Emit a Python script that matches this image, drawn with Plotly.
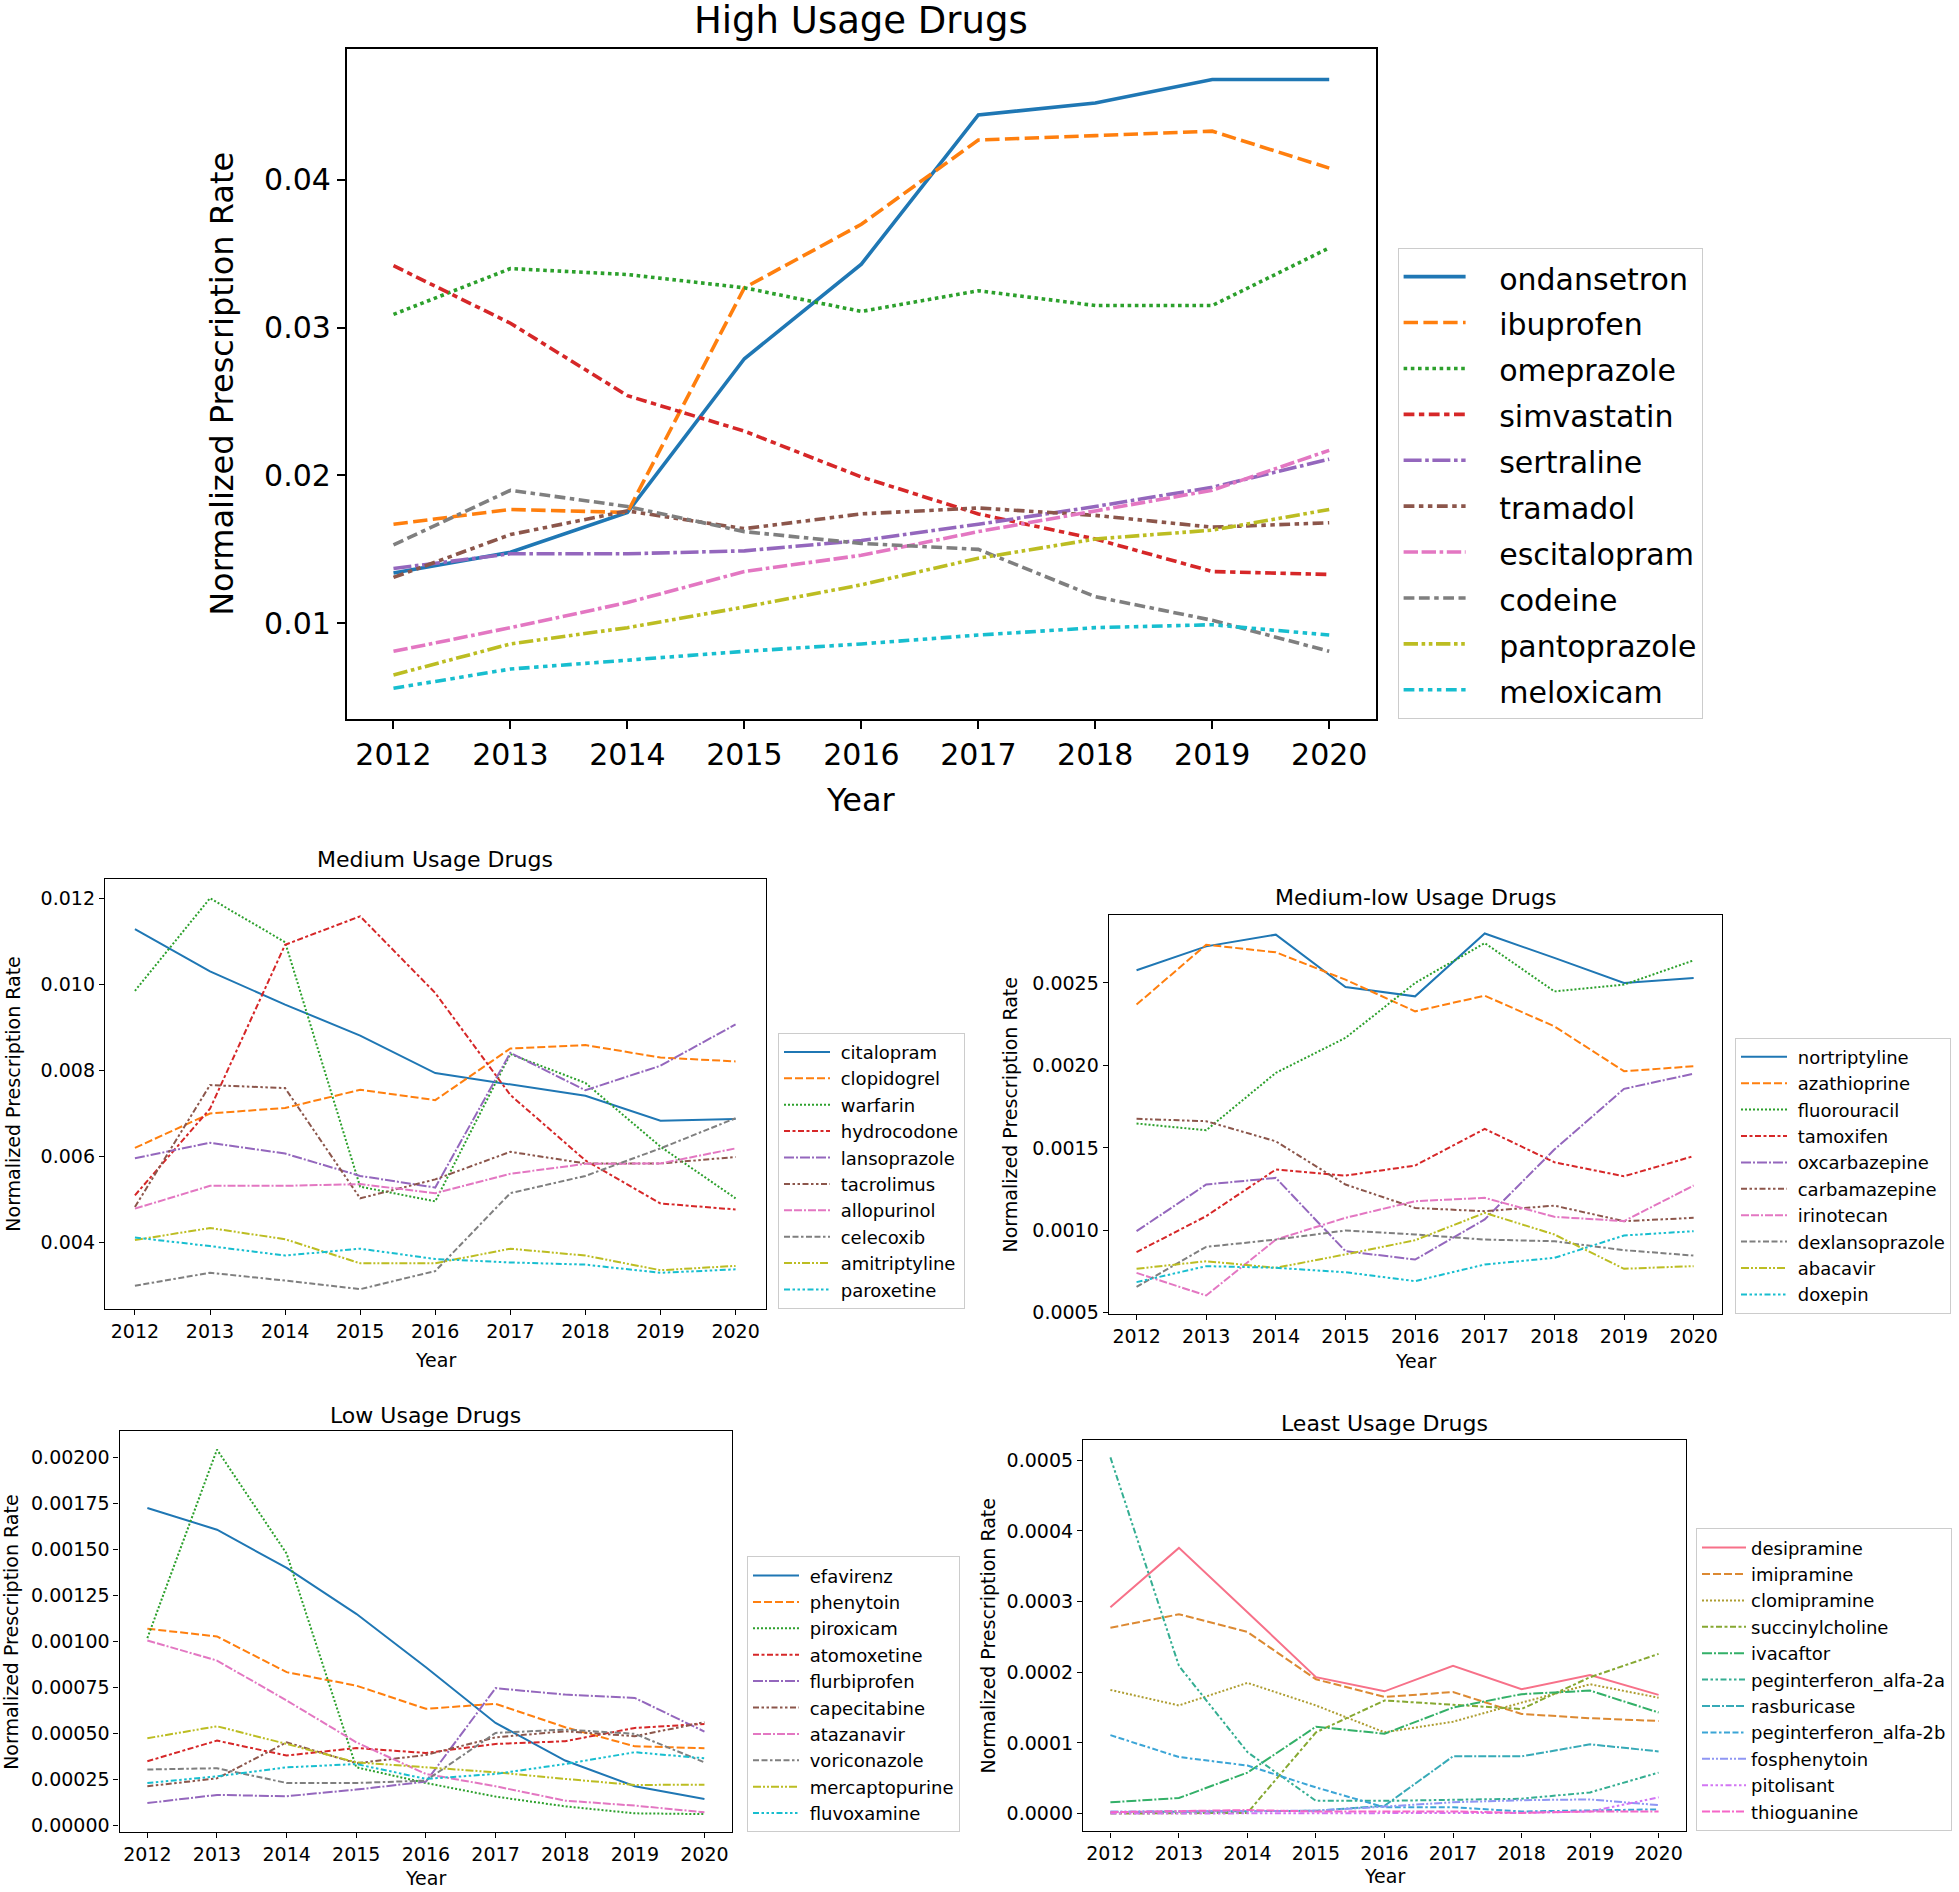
import itertools
import plotly.graph_objects as go

W, H = 1959, 1892
years = [2012, 2013, 2014, 2015, 2016, 2017, 2018, 2019, 2020]

# ---------------- High usage ----------------
ondansetron = [0.0134, 0.0148, 0.0175, 0.0279, 0.0343, 0.0444, 0.0452, 0.0468, 0.0468]
ibuprofen = [0.0167, 0.0177, 0.0175, 0.0327, 0.0370, 0.0427, 0.0430, 0.0433, 0.0408]
omeprazole = [0.0309, 0.0340, 0.0336, 0.0327, 0.0311, 0.0325, 0.0315, 0.0315, 0.0354]
simvastatin = [0.0342, 0.0303, 0.0254, 0.0230, 0.0199, 0.0174, 0.0157, 0.0135, 0.0133]
sertraline = [0.0137, 0.0147, 0.0147, 0.0149, 0.0156, 0.0167, 0.0179, 0.0192, 0.0211]
tramadol = [0.0131, 0.0160, 0.0176, 0.0164, 0.0174, 0.0178, 0.0173, 0.0165, 0.0168]
escitalopram = [0.0081, 0.0097, 0.0114, 0.0135, 0.0146, 0.0162, 0.0176, 0.0190, 0.0217]
codeine = [0.0153, 0.0190, 0.0179, 0.0162, 0.0154, 0.0150, 0.0118, 0.0102, 0.0081]
pantoprazole = [0.0065, 0.0086, 0.0097, 0.0111, 0.0126, 0.0144, 0.0157, 0.0163, 0.0177]
meloxicam = [0.0056, 0.0069, 0.0075, 0.0081, 0.0086, 0.0092, 0.0097, 0.0099, 0.0092]

# ---------------- Medium usage ----------------
citalopram = [0.01128, 0.01030, 0.00953, 0.00881, 0.00794, 0.00767, 0.00741, 0.00683, 0.00687]
clopidogrel = [0.00620, 0.00700, 0.00713, 0.00755, 0.00731, 0.00851, 0.00859, 0.00830, 0.00821]
warfarin = [0.00985, 0.01200, 0.01098, 0.00530, 0.00496, 0.00838, 0.00771, 0.00623, 0.00503]
hydrocodone = [0.00510, 0.00711, 0.01092, 0.01158, 0.00980, 0.00743, 0.00591, 0.00491, 0.00477]
lansoprazole = [0.00596, 0.00632, 0.00607, 0.00555, 0.00528, 0.00841, 0.00754, 0.00811, 0.00907]
tacrolimus = [0.00483, 0.00766, 0.00759, 0.00503, 0.00547, 0.00611, 0.00584, 0.00584, 0.00599]
allopurinol = [0.00479, 0.00532, 0.00532, 0.00536, 0.00515, 0.00560, 0.00583, 0.00584, 0.00619]
celecoxib = [0.00300, 0.00330, 0.00312, 0.00292, 0.00334, 0.00515, 0.00555, 0.00619, 0.00689]
amitriptyline = [0.00406, 0.00434, 0.00408, 0.00352, 0.00352, 0.00386, 0.00370, 0.00336, 0.00346]
paroxetine = [0.00412, 0.00392, 0.00370, 0.00386, 0.00362, 0.00354, 0.00349, 0.00330, 0.00338]

# ---------------- Medium-low usage ----------------
nortriptyline = [0.002577, 0.002722, 0.002793, 0.002476, 0.002419, 0.002800, 0.002652, 0.002500, 0.002530]
azathioprine = [0.002369, 0.002732, 0.002686, 0.002520, 0.002328, 0.002423, 0.002237, 0.001965, 0.001995]
fluorouracil = [0.001648, 0.001607, 0.001955, 0.002167, 0.002500, 0.002742, 0.002449, 0.002490, 0.002637]
tamoxifen = [0.000868, 0.001086, 0.001369, 0.001332, 0.001393, 0.001615, 0.001413, 0.001328, 0.001450]
oxcarbazepine = [0.000995, 0.001278, 0.001318, 0.000874, 0.000823, 0.001066, 0.001490, 0.001858, 0.001950]
carbamazepine = [0.001676, 0.001662, 0.001540, 0.001278, 0.001136, 0.001116, 0.001150, 0.001056, 0.001076]
irinotecan = [0.000742, 0.000605, 0.000944, 0.001076, 0.001177, 0.001197, 0.001082, 0.001056, 0.001272]
dexlansoprazole = [0.000658, 0.000900, 0.000944, 0.000999, 0.000975, 0.000944, 0.000934, 0.000880, 0.000847]
abacavir = [0.000767, 0.000813, 0.000773, 0.000854, 0.000940, 0.001106, 0.000975, 0.000767, 0.000783]
doxepin = [0.000686, 0.000783, 0.000773, 0.000746, 0.000692, 0.000793, 0.000833, 0.000969, 0.000995]

# ---------------- Low usage ----------------
efavirenz = [0.001726, 0.001608, 0.001400, 0.001151, 0.000861, 0.000558, 0.000354, 0.000214, 0.000145]
phenytoin = [0.001070, 0.001028, 0.000834, 0.000761, 0.000635, 0.000662, 0.000535, 0.000431, 0.000421]
piroxicam = [0.001019, 0.002043, 0.001478, 0.000317, 0.000232, 0.000158, 0.000105, 0.000067, 0.000063]
atomoxetine = [0.000350, 0.000462, 0.000381, 0.000422, 0.000395, 0.000444, 0.000459, 0.000531, 0.000553]
flurbiprofen = [0.000123, 0.000167, 0.000160, 0.000196, 0.000239, 0.000747, 0.000712, 0.000694, 0.000511]
capecitabine = [0.000214, 0.000257, 0.000453, 0.000339, 0.000384, 0.000480, 0.000513, 0.000486, 0.000562]
atazanavir = [0.001006, 0.000897, 0.000680, 0.000453, 0.000281, 0.000214, 0.000136, 0.000109, 0.000073]
voriconazole = [0.000305, 0.000312, 0.000232, 0.000232, 0.000245, 0.000504, 0.000522, 0.000499, 0.000344]
mercaptopurine = [0.000475, 0.000540, 0.000444, 0.000344, 0.000317, 0.000290, 0.000254, 0.000221, 0.000223]
fluvoxamine = [0.000232, 0.000268, 0.000317, 0.000335, 0.000254, 0.000281, 0.000335, 0.000399, 0.000366]

# ---------------- Least usage ----------------
desipramine = [0.000292, 0.000376, 0.000285, 0.000193, 0.000173, 0.000209, 0.000176, 0.000196, 0.000168]
imipramine = [0.000263, 0.000282, 0.000257, 0.000190, 0.000165, 0.000172, 0.000141, 0.000135, 0.000131]
clomipramine = [0.000175, 0.000153, 0.000185, 0.000153, 0.000115, 0.000130, 0.000157, 0.000183, 0.000164]
succinylcholine = [0.000000, 0.000000, 0.000001, 0.000115, 0.000160, 0.000154, 0.000148, 0.000193, 0.000226]
ivacaftor = [0.000016, 0.000022, 0.000058, 0.000123, 0.000113, 0.000150, 0.000169, 0.000174, 0.000143]
peginterferon_alfa_2a = [0.000504, 0.000209, 0.000087, 0.000018, 0.000018, 0.000020, 0.000021, 0.000030, 0.000058]
rasburicase = [0.000002, 0.000003, 0.000003, 0.000004, 0.000011, 0.000081, 0.000081, 0.000098, 0.000088]
peginterferon_alfa_2b = [0.000111, 0.000080, 0.000068, 0.000037, 0.000009, 0.000009, 0.000003, 0.000004, 0.000006]
fosphenytoin = [0.000003, 0.000003, 0.000003, 0.000004, 0.000010, 0.000016, 0.000019, 0.000020, 0.000012]
pitolisant = [0.000000, 0.000000, 0.000000, 0.000000, 0.000000, 0.000001, 0.000001, 0.000003, 0.000023]
thioguanine = [0.000002, 0.000004, 0.000005, 0.000003, 0.000003, 0.000003, 0.000001, 0.000003, 0.000003]

high_names = ["ondansetron", "ibuprofen", "omeprazole", "simvastatin", "sertraline",
              "tramadol", "escitalopram", "codeine", "pantoprazole", "meloxicam"]
high_series = [ondansetron, ibuprofen, omeprazole, simvastatin, sertraline,
               tramadol, escitalopram, codeine, pantoprazole, meloxicam]
medium_names = ["citalopram", "clopidogrel", "warfarin", "hydrocodone", "lansoprazole",
                "tacrolimus", "allopurinol", "celecoxib", "amitriptyline", "paroxetine"]
medium_series = [citalopram, clopidogrel, warfarin, hydrocodone, lansoprazole,
                 tacrolimus, allopurinol, celecoxib, amitriptyline, paroxetine]
medlow_names = ["nortriptyline", "azathioprine", "fluorouracil", "tamoxifen", "oxcarbazepine",
                "carbamazepine", "irinotecan", "dexlansoprazole", "abacavir", "doxepin"]
medlow_series = [nortriptyline, azathioprine, fluorouracil, tamoxifen, oxcarbazepine,
                 carbamazepine, irinotecan, dexlansoprazole, abacavir, doxepin]
low_names = ["efavirenz", "phenytoin", "piroxicam", "atomoxetine", "flurbiprofen",
             "capecitabine", "atazanavir", "voriconazole", "mercaptopurine", "fluvoxamine"]
low_series = [efavirenz, phenytoin, piroxicam, atomoxetine, flurbiprofen,
              capecitabine, atazanavir, voriconazole, mercaptopurine, fluvoxamine]
least_names = ["desipramine", "imipramine", "clomipramine", "succinylcholine", "ivacaftor",
               "peginterferon_alfa-2a", "rasburicase", "peginterferon_alfa-2b", "fosphenytoin",
               "pitolisant", "thioguanine"]
least_series = [desipramine, imipramine, clomipramine, succinylcholine, ivacaftor,
                peginterferon_alfa_2a, rasburicase, peginterferon_alfa_2b, fosphenytoin,
                pitolisant, thioguanine]

high_ticks = [0.01, 0.02, 0.03, 0.04]
medium_ticks = [0.004, 0.006, 0.008, 0.010, 0.012]
medlow_ticks = [0.0005, 0.0010, 0.0015, 0.0020, 0.0025]
low_ticks = [0.0, 0.00025, 0.0005, 0.00075, 0.001, 0.00125, 0.0015, 0.00175, 0.002]
least_ticks = [0.0, 0.0001, 0.0002, 0.0003, 0.0004, 0.0005]

TAB10 = ["#1f77b4", "#ff7f0e", "#2ca02c", "#d62728", "#9467bd",
         "#8c564b", "#e377c2", "#7f7f7f", "#bcbd22", "#17becf"]
HUSL11 = ["#f77189", "#dc8932", "#ae9d31", "#86a831", "#33b068", "#34ae92",
          "#37aab7", "#3ba5d6", "#8f96f4", "#d276f4", "#f566c8"]


def seaborn_dashes(n):
    dashes = ["", (4, 1.5), (1, 1), (3, 1.25, 1.5, 1.25), (5, 1, 1, 1)]
    p = 3
    while len(dashes) < n:
        a = itertools.combinations_with_replacement([3, 1.25], p)
        b = itertools.combinations_with_replacement([4, 1], p)
        seg_list = itertools.chain(*zip(list(a)[1:-1][::-1], list(b)[1:-1]))
        for segs in seg_list:
            gap = min(segs)
            dashes.append(tuple(itertools.chain(*((s, gap) for s in segs))))
        p += 1
    return dashes[:n]


def dash_str(spec, lw):
    if spec == "":
        return "solid"
    return ",".join(f"{v * lw:.2f}px" for v in spec)


FONT = "DejaVu Sans"
NB = "\u00a0"

panels = [
    dict(title="High Usage Drugs", names=high_names, series=high_series, colors=TAB10,
         box=(346.7, 49.0, 1376.0, 718.7), ticks=high_ticks, fmt=".2f",
         legend_x=1397.6, title_y=21, ylab_x=222, xlab_y=800, pad=3,
         lw=3.6, fs_title=37, fs_tick=30, fs_lab=32, fs_leg=33, fs_txt=30, itemw=62,
         axlw=1.6, ticklen=8),
    dict(title="Medium Usage Drugs", names=medium_names, series=medium_series, colors=TAB10,
         box=(104.9, 878.7, 765.6, 1308.7), ticks=medium_ticks, fmt=".3f",
         legend_x=778, title_y=859, ylab_x=13, xlab_y=1360, pad=1,
         lw=2.0, fs_title=22, fs_tick=19, fs_lab=19, fs_leg=18, fs_txt=18, itemw=46,
         axlw=1.2, ticklen=5),
    dict(title="Medium-low Usage Drugs", names=medlow_names, series=medlow_series, colors=TAB10,
         box=(1108.7, 915.4, 1721.5, 1313.6), ticks=medlow_ticks, fmt=".4f",
         legend_x=1735, title_y=898, ylab_x=1009, xlab_y=1361, pad=1,
         lw=2.0, fs_title=22, fs_tick=19, fs_lab=19, fs_leg=18, fs_txt=18, itemw=46,
         axlw=1.2, ticklen=5),
    dict(title="Low Usage Drugs", names=low_names, series=low_series, colors=TAB10,
         box=(119.5, 1431.4, 732.3, 1832.3), ticks=low_ticks, fmt=".5f",
         legend_x=747, title_y=1415, ylab_x=11, xlab_y=1878, pad=1,
         lw=2.0, fs_title=22, fs_tick=19, fs_lab=19, fs_leg=18, fs_txt=18, itemw=46,
         axlw=1.2, ticklen=5),
    dict(title="Least Usage Drugs", names=least_names, series=least_series, colors=HUSL11,
         box=(1083.0, 1439.6, 1686.0, 1831.4), ticks=least_ticks, fmt=".4f",
         legend_x=1696, title_y=1423, ylab_x=987, xlab_y=1876, pad=0,
         lw=2.0, fs_title=22, fs_tick=19, fs_lab=19, fs_leg=18, fs_txt=18, itemw=44,
         axlw=1.2, ticklen=5),
]


def px(x):
    return x / W


def py(y):
    return 1 - y / H


fig = go.Figure()
annotations = []
layout = dict(width=W, height=H, margin=dict(l=0, r=0, t=0, b=0, pad=0, autoexpand=False),
              paper_bgcolor="white", plot_bgcolor="white",
              font=dict(family=FONT, color="black"), showlegend=True)

for i, p in enumerate(panels):
    k = "" if i == 0 else str(i + 1)
    xa, ya = "x" + k, "y" + k
    leg = "legend" + k
    dashes = seaborn_dashes(len(p["names"]))
    for j, (name, vals) in enumerate(zip(p["names"], p["series"])):
        label = NB * p["pad"] + name
        if p["fs_txt"] != p["fs_leg"]:
            label = f'<span style="font-size:{p["fs_txt"]}px">{label}</span>'
        fig.add_trace(go.Scatter(
            x=years, y=vals, name=label, mode="lines",
            xaxis=xa, yaxis=ya, legend=leg,
            line=dict(color=p["colors"][j], width=p["lw"], dash=dash_str(dashes[j], p["lw"])),
        ))
    allv = [v for s in p["series"] for v in s]
    lo, hi = min(allv), max(allv)
    m = (hi - lo) * 0.05
    x0, y0, x1, y1 = p["box"]
    axis_common = dict(showgrid=False, zeroline=False, showline=True, mirror=True,
                       automargin=False,
                       linecolor="black", linewidth=p["axlw"], ticks="outside",
                       ticklen=p["ticklen"], tickwidth=p["axlw"], tickcolor="black",
                       tickfont=dict(family=FONT, size=p["fs_tick"], color="black"))
    layout["xaxis" + k] = dict(axis_common, domain=[px(x0), px(x1)], anchor=ya,
                               range=[2012 - 0.4, 2020 + 0.4], tickvals=years,
                               ticktext=[str(y) for y in years])
    layout["yaxis" + k] = dict(axis_common, domain=[py(y1), py(y0)], anchor=xa,
                               range=[lo - m, hi + m], tickvals=p["ticks"],
                               tickformat=p["fmt"])
    layout[leg] = dict(x=px(p["legend_x"]), y=py(y1), xanchor="left", yanchor="bottom",
                       xref="paper", yref="paper",
                       bgcolor="white", bordercolor="#cccccc", borderwidth=1,
                       font=dict(family=FONT, size=p["fs_leg"], color="black"),
                       itemwidth=p["itemw"])
    cx = px((x0 + x1) / 2)
    annotations.append(dict(text=p["title"], x=cx, y=py(p["title_y"]), xref="paper", yref="paper",
                            xanchor="center", yanchor="middle", showarrow=False,
                            font=dict(family=FONT, size=p["fs_title"], color="black")))
    annotations.append(dict(text="Year", x=cx, y=py(p["xlab_y"]), xref="paper", yref="paper",
                            xanchor="center", yanchor="middle", showarrow=False,
                            font=dict(family=FONT, size=p["fs_lab"], color="black")))
    annotations.append(dict(text="Normalized Prescription Rate", x=px(p["ylab_x"]),
                            y=py((y0 + y1) / 2), xref="paper", yref="paper",
                            xanchor="center", yanchor="middle", textangle=-90, showarrow=False,
                            font=dict(family=FONT, size=p["fs_lab"], color="black")))

layout["annotations"] = annotations
fig.update_layout(**layout)
fig.write_html("out.html", config={"displayModeBar": False},
               post_script="document.body.style.margin='0px';")
